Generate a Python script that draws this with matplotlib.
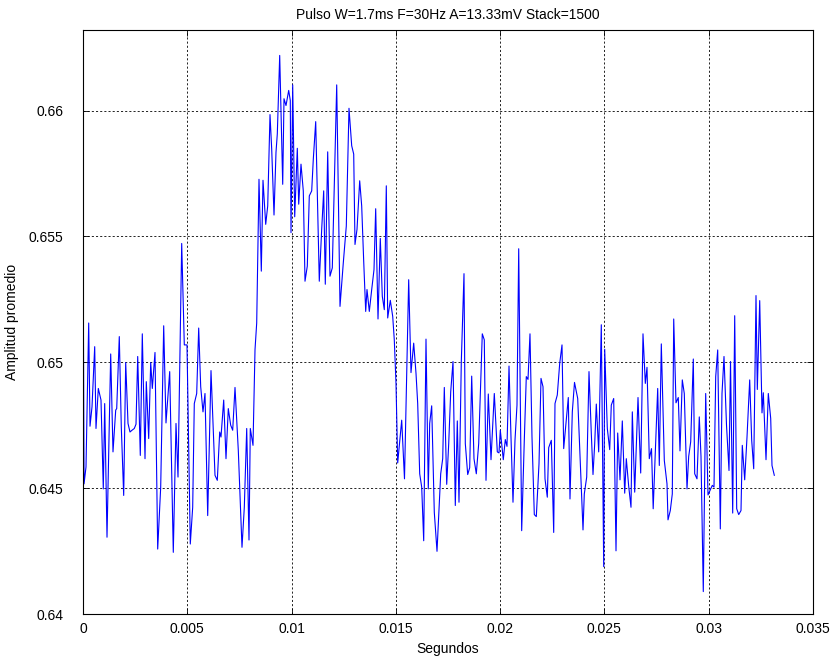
import numpy as np
import matplotlib
matplotlib.use('Agg')
from matplotlib import pyplot as plt

plt.rcParams['font.family'] = ['Liberation Sans', 'DejaVu Sans']

# tiempo (ms) y amplitud promedio
t_ms = [0.00, 0.05, 0.144, 0.273, 0.336, 0.432, 0.561, 0.623, 0.734, 0.863,
        0.973, 1.040, 1.151, 1.328, 1.438, 1.568, 1.616, 1.740, 1.836, 1.951,
        2.047, 2.158, 2.253, 2.349, 2.460, 2.541, 2.623, 2.747, 2.843, 2.973,
        3.035, 3.150, 3.246, 3.323, 3.452, 3.581, 3.725, 3.869, 3.979, 4.157,
        4.329, 4.459, 4.555, 4.732, 4.857, 4.986, 5.144, 5.259, 5.336, 5.451,
        5.547, 5.643, 5.753, 5.849, 5.979, 6.137, 6.329, 6.439, 6.554, 6.616,
        6.746, 6.856, 6.966, 7.081, 7.177, 7.288, 7.446, 7.623, 7.734, 7.849,
        7.959, 8.021, 8.151, 8.247, 8.328, 8.438, 8.549, 8.630, 8.760, 8.856,
        8.966, 9.047, 9.158, 9.253, 9.316, 9.431, 9.575, 9.637, 9.733, 9.862,
        9.939, 9.973, 10.054, 10.150, 10.275, 10.342, 10.452, 10.562, 10.644, 10.754,
        10.850, 10.965, 11.042, 11.157, 11.253, 11.329, 11.444, 11.540, 11.617, 11.732,
        11.842, 11.953, 12.164, 12.322, 12.480, 12.624, 12.753, 12.883, 12.979, 13.041,
        13.137, 13.266, 13.362, 13.458, 13.554, 13.616, 13.727, 13.842, 13.952, 14.033,
        14.144, 14.254, 14.350, 14.446, 14.542, 14.609, 14.734, 14.849, 14.925, 15.007,
        15.088, 15.280, 15.414, 15.615, 15.726, 15.855, 15.966, 16.047, 16.143, 16.239,
        16.335, 16.445, 16.555, 16.622, 16.718, 16.843, 16.973, 17.150, 17.246, 17.323,
        17.438, 17.534, 17.630, 17.740, 17.850, 17.946, 18.027, 18.138, 18.267, 18.330,
        18.445, 18.540, 18.636, 18.746, 18.857, 18.972, 19.144, 19.240, 19.322, 19.432,
        19.562, 19.720, 19.864, 19.945, 20.008, 20.075, 20.151, 20.247, 20.329, 20.425,
        20.520, 20.616, 20.712, 20.808, 20.890, 21.033, 21.158, 21.254, 21.336, 21.431,
        21.527, 21.638, 21.734, 21.863, 21.959, 22.055, 22.151, 22.261, 22.328, 22.453,
        22.568, 22.630, 22.740, 22.856, 22.966, 23.047, 23.158, 23.268, 23.349, 23.460,
        23.565, 23.719, 23.843, 23.973, 24.035, 24.150, 24.260, 24.371, 24.452, 24.534,
        24.610, 24.725, 24.850, 24.965, 25.013, 25.138, 25.253, 25.329, 25.444, 25.555,
        25.636, 25.747, 25.857, 25.972, 26.049, 26.164, 26.274, 26.337, 26.451, 26.610,
        26.739, 26.849, 26.960, 27.041, 27.151, 27.257, 27.338, 27.554, 27.631, 27.727,
        27.871, 28.000, 28.048, 28.158, 28.254, 28.322, 28.431, 28.541, 28.623, 28.733,
        28.829, 28.959, 29.040, 29.136, 29.261, 29.328, 29.438, 29.548, 29.630, 29.740,
        29.855, 29.966, 30.076, 30.172, 30.253, 30.335, 30.431, 30.556, 30.637, 30.733,
        30.853, 30.973, 31.045, 31.150, 31.246, 31.342, 31.438, 31.548, 31.610, 31.725,
        31.836, 31.965, 32.061, 32.157, 32.267, 32.330, 32.445, 32.555, 32.618, 32.747,
        32.857, 32.972, 33.034, 33.145]

amp = [0.6555, 0.64517, 0.64584, 0.65156, 0.64746, 0.64823, 0.65062, 0.64737, 0.64896, 0.64850,
       0.64497, 0.64836, 0.64305, 0.65033, 0.64644, 0.64810, 0.64816, 0.65102, 0.64743, 0.64471,
       0.64999, 0.64757, 0.64723, 0.64730, 0.64737, 0.64754, 0.65023, 0.64630, 0.65113, 0.64617,
       0.64923, 0.64697, 0.64999, 0.64896, 0.65039, 0.64258, 0.64504, 0.65145, 0.64759, 0.64963,
       0.64245, 0.64757, 0.64544, 0.65472, 0.65069, 0.65069, 0.64278, 0.64424, 0.64836, 0.64876,
       0.65136, 0.64903, 0.64803, 0.64876, 0.64391, 0.64967, 0.64551, 0.64531, 0.64723, 0.64703,
       0.64850, 0.64617, 0.64816, 0.64750, 0.64730, 0.64900, 0.64650, 0.64265, 0.64424, 0.64737,
       0.64294, 0.64737, 0.64670, 0.65050, 0.65156, 0.65727, 0.65362, 0.65723, 0.65548, 0.65621,
       0.65984, 0.65847, 0.65585, 0.65834, 0.65907, 0.66219, 0.65707, 0.66047, 0.66020, 0.66080,
       0.66040, 0.65515, 0.66102, 0.65578, 0.65850, 0.65628, 0.65787, 0.65681, 0.65322, 0.65382,
       0.65661, 0.65681, 0.65807, 0.65956, 0.65608, 0.65322, 0.65528, 0.65681, 0.65310, 0.65836,
       0.65342, 0.65375, 0.66102, 0.65222, 0.65395, 0.65541, 0.66009, 0.65860, 0.65827, 0.65468,
       0.65528, 0.65721, 0.65621, 0.65402, 0.65202, 0.65289, 0.65202, 0.65289, 0.65368, 0.65610,
       0.65172, 0.65492, 0.65262, 0.65209, 0.65701, 0.65176, 0.65246, 0.65182, 0.65089, 0.64916,
       0.64600, 0.64770, 0.64537, 0.65328, 0.64959, 0.65076, 0.64956, 0.64836, 0.64557, 0.64504,
       0.64291, 0.65092, 0.64497, 0.64757, 0.64827, 0.64404, 0.64249, 0.64557, 0.64617, 0.64900,
       0.64515, 0.64677, 0.64883, 0.65003, 0.64431, 0.64767, 0.64444, 0.65003, 0.65352, 0.64677,
       0.64554, 0.64581, 0.64945, 0.64617, 0.64557, 0.64677, 0.65113, 0.65089, 0.64531, 0.64874,
       0.64613, 0.64876, 0.64644, 0.64640, 0.64730, 0.64677, 0.64613, 0.64693, 0.64666, 0.64985,
       0.64703, 0.64444, 0.64690, 0.64830, 0.65451, 0.64331, 0.64690, 0.64943, 0.64932, 0.65113,
       0.64703, 0.64395, 0.64387, 0.64597, 0.64936, 0.64903, 0.64537, 0.64464, 0.64661, 0.64690,
       0.64324, 0.64836, 0.64870, 0.64996, 0.65069, 0.64657, 0.64757, 0.64860, 0.64457, 0.64803,
       0.64920, 0.64856, 0.64597, 0.64334, 0.64477, 0.64544, 0.64963, 0.64717, 0.64554, 0.64677,
       0.64834, 0.64644, 0.65149, 0.64188, 0.65052, 0.64737, 0.64653, 0.64830, 0.64856, 0.64251,
       0.64719, 0.64533, 0.64767, 0.64480, 0.64617, 0.64507, 0.64424, 0.64803, 0.64484, 0.64860,
       0.64560, 0.65113, 0.64916, 0.64980, 0.64617, 0.64657, 0.64418, 0.64896, 0.64590, 0.65073,
       0.64610, 0.64517, 0.64374, 0.64411, 0.64477, 0.65172, 0.64839, 0.64860, 0.64648, 0.64930,
       0.64876, 0.64497, 0.64626, 0.64684, 0.65013, 0.64557, 0.64537, 0.64783, 0.64626, 0.64089,
       0.64876, 0.64473, 0.64493, 0.64511, 0.64504, 0.64943, 0.65049, 0.64338, 0.64876, 0.65023,
       0.64750, 0.64570, 0.65003, 0.64401, 0.65185, 0.64418, 0.64395, 0.64411, 0.64670, 0.64533,
       0.64703, 0.64930, 0.64690, 0.64577, 0.65265, 0.64892, 0.65245, 0.64799, 0.64879, 0.64613,
       0.64876, 0.64777, 0.64590, 0.64551]

xticks = [0, 0.005, 0.01, 0.015, 0.02, 0.025, 0.03, 0.035]
xticklabels = ['0', '0.005', '0.01', '0.015', '0.02', '0.025', '0.03', '0.035']
yticks = [0.64, 0.645, 0.65, 0.655, 0.66]
yticklabels = ['0.64', '0.645', '0.65', '0.655', '0.66']

t = np.array(t_ms) / 1000.0

fig = plt.figure(figsize=(8.32, 6.56), dpi=100)
ax = fig.add_axes([83/832, 42/656, 730/832, 584/656])

ax.plot(t, amp, color=(0, 0, 1), linewidth=0.8)

ax.set_xlim(0, 0.035)
ax.set_ylim(0.64, 0.6632)
ax.set_xticks(xticks)
ax.set_xticklabels(xticklabels)
ax.set_yticks(yticks)
ax.set_yticklabels(yticklabels)

ax.grid(True, color='k', linestyle=(0, (2.5, 2.5)), linewidth=0.6)
ax.tick_params(direction='in', top=True, right=True, labelsize=10, length=4, width=0.6)
ax.tick_params(axis='y', pad=14)
ax.tick_params(axis='x', pad=6)
for s in ax.spines.values():
    s.set_linewidth(0.8)

ax.set_xlabel('Segundos', fontsize=10, labelpad=4)
ax.set_ylabel('Amplitud promedio', fontsize=10, labelpad=7)
ax.set_title('Pulso W=1.7ms F=30Hz A=13.33mV Stack=1500', fontsize=10, pad=8)

plt.savefig('out.png', dpi=100)
